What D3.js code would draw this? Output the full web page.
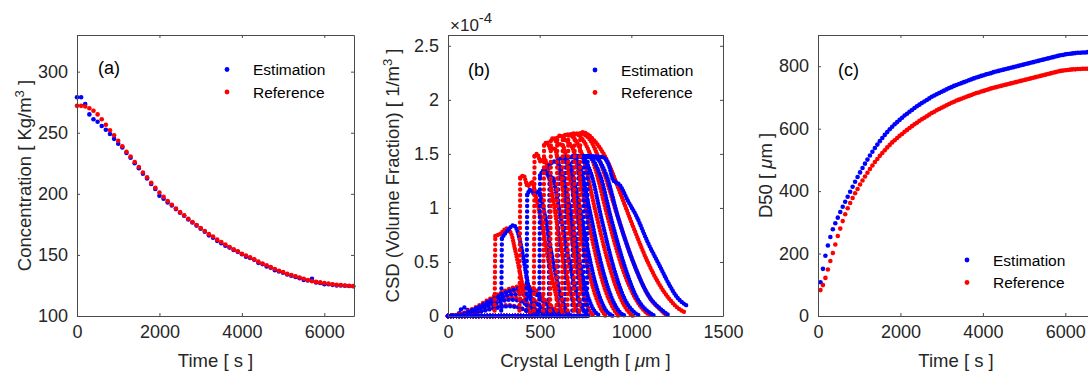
<!DOCTYPE html>
<html>
<head>
<meta charset="utf-8">
<script src="https://cdn.jsdelivr.net/npm/d3@7/dist/d3.min.js"></script>
<style>
  body { margin: 0; background: #fff; }
  svg { display: block; font-family: "Liberation Sans", Arial, sans-serif; }
  .axis path, .axis line { stroke: #4a4a4a; }
  .axis text { fill: #262626; font-family: "Liberation Sans", Arial, sans-serif; font-size: 18px; }
  .lbl { fill: #262626; font-size: 18.5px; }
  .leg { fill: #000; font-size: 15.5px; }
  .tag { fill: #000; font-size: 18px; }
</style>
</head>
<body>
<svg id="chart" width="1088" height="372"></svg>
<script>
// series names + colours
const legendLabels = ['Estimation', 'Reference'];
const seriesColors = ['#0000ff', '#ff0000'];

// (a) concentration [Kg/m3], one value every 100 s from t = 0
const concStep = 100;
const concEst = [279, 279, 273.5, 265, 261, 259, 255.5, 252.5, 249, 245,
  241, 238, 233.5, 229.5, 225, 221, 216.5, 212.5, 208, 204,
  198.5, 196, 193, 190.5, 187.5, 184.5, 182, 179, 176.5, 174,
  171.5, 169, 166, 164, 161.5, 159.5, 157.5, 156, 154, 152.5,
  150.5, 148.5, 147.5, 146, 143.5, 142.5, 140.5, 139.5, 137.5, 136.5,
  135.5, 134, 133, 132, 131, 129.5, 129, 130.5, 127.5, 127,
  126, 126, 125.5, 125, 125, 124.8, 124.6, 124.3];
const concRef = [272, 272, 271.5, 270, 268, 265, 261, 256.5, 252, 248,
  243.5, 239, 234.5, 230.5, 226, 222, 217.5, 213.5, 209, 205,
  201, 197.5, 194, 191, 188, 185, 182.5, 179.5, 177, 174.5,
  172, 169.5, 167, 165, 162.5, 160.5, 158.5, 156.5, 154.5, 153,
  151, 149.5, 148, 146.5, 144.5, 143, 141.5, 140, 138.5, 137,
  136, 134.5, 133.5, 132.5, 131.5, 130.5, 129.5, 128.5, 128, 127.5,
  127, 126.5, 126, 125.5, 125.3, 125, 124.8, 124.5];

// (c) D50 [um], one value every 60 s from t = 60
const d50Step = 60;
const d50Est = [108, 151, 193, 226, 253, 278, 297, 315, 333, 350,
  366, 382, 398, 414, 430, 445, 460, 474, 488, 501,
  514, 526, 538, 549, 560, 570, 580, 589, 598, 606,
  614, 621, 628, 635, 642, 648, 654, 660, 666, 672,
  677, 682, 687, 692, 697, 702, 706, 710, 714, 718,
  722, 726, 730, 733, 737, 740, 743, 746, 749, 752,
  755, 758, 761, 764, 766, 769, 771, 774, 776, 778,
  781, 783, 785, 787, 789, 791, 793, 795, 797, 799,
  801, 803, 805, 807, 809, 811, 813, 815, 817, 819,
  821, 823, 825, 827, 829, 831, 833, 835, 836, 838,
  839, 840, 841, 842, 843, 843, 844, 844, 845, 845,
  846, 846];
const d50Ref = [83, 99, 122, 149, 176, 202, 229, 256, 280, 304,
  326, 345, 362, 378, 393, 407, 421, 434, 447, 459,
  471, 482, 493, 503, 513, 522, 531, 540, 548, 556,
  563, 570, 577, 583, 590, 596, 602, 608, 614, 619,
  625, 630, 635, 640, 645, 650, 654, 659, 663, 667,
  671, 675, 679, 683, 686, 690, 693, 696, 699, 702,
  705, 708, 711, 714, 716, 719, 721, 724, 726, 729,
  731, 733, 735, 737, 739, 741, 743, 745, 747, 749,
  751, 753, 755, 757, 759, 761, 763, 765, 767, 769,
  771, 773, 775, 777, 779, 781, 783, 785, 786, 787,
  788, 789, 790, 790, 791, 791, 792, 792, 792, 792,
  793, 793];

// (b) CSD snapshots, points [crystal length um, value x1e-4]
const csdEst = [
  [[0,0],[50,0],[70,0.06],[88,0.08],[105,0.06],[130,0.02],[160,0],[300,0]],
  [[0,0],[60,0.01],[150,0.03],[250,0.07],[330,0.09],[380,0.08],[440,0.04],[500,0.01],[560,0]],
  [[0,0],[60,0.01],[150,0.05],[250,0.11],[340,0.15],[390,0.14],[450,0.08],[520,0.02],[580,0]],
  [[0,0],[60,0.01],[150,0.06],[250,0.14],[350,0.2],[410,0.2],[470,0.13],[540,0.04],[600,0]],
  [[0,0],[60,0.01],[150,0.07],[250,0.16],[350,0.24],[420,0.26],[480,0.2],[550,0.08],[620,0.01],[650,0]],
  [[0,0],[290,0],[294,0.72],[310,0.76],[330,0.8],[356,0.84],[380,0.78],[402,0.62],[430,0.35],[455,0.15],[475,0.03],[490,0]],
  [[0,0],[428,0],[432,1.12],[450,1.17],[470,1.13],[495,1.15],[520,1.0],[560,0.62],[600,0.28],[640,0.07],[670,0]],
  [[0,0],[498,0],[502,1.3],[525,1.35],[545,1.3],[570,1.28],[600,1.05],[650,0.6],[700,0.22],[745,0.04],[770,0]],
  [[0,0],[550,0],[554,1.4],[580,1.43],[605,1.4],[640,1.2],[690,0.75],[740,0.32],[790,0.07],[830,0]],
  [[0,0],[598,0],[602,1.45],[630,1.46],[660,1.42],[700,1.15],[750,0.72],[800,0.33],[855,0.07],[900,0]],
  [[0,0],[638,0],[642,1.47],[680,1.47],[720,1.38],[770,1.0],[830,0.52],[890,0.18],[940,0.03],[970,0]],
  [[0,0],[678,0],[682,1.48],[730,1.47],[780,1.32],[840,0.88],[900,0.47],[960,0.17],[1020,0.03],[1050,0]],
  [[0,0],[708,0],[712,1.48],[770,1.47],[830,1.3],[890,0.9],[960,0.48],[1030,0.17],[1100,0.03],[1130,0]],
  [[0,0],[738,0],[742,1.48],[800,1.47],[860,1.32],[930,0.9],[1010,0.5],[1090,0.2],[1170,0.05],[1210,0]],
  [[0,0],[758,0],[762,1.48],[845,1.47],[880,1.38],[900,1.26],[938,1.21],[980,1.07],[1029,0.92],[1090,0.68],[1156,0.46],[1210,0.28],[1247,0.18],[1290,0.11],[1311,0.09]]
];
const csdRef = [
  [[0,0],[60,0.01],[150,0.03],[250,0.08],[320,0.1],[370,0.09],[430,0.05],[490,0.01],[540,0]],
  [[0,0],[60,0.01],[150,0.05],[250,0.13],[340,0.17],[390,0.16],[450,0.1],[520,0.03],[580,0]],
  [[0,0],[60,0.015],[150,0.07],[250,0.16],[350,0.23],[400,0.23],[460,0.16],[540,0.05],[600,0]],
  [[0,0],[50,0.01],[150,0.08],[250,0.18],[350,0.26],[410,0.28],[470,0.25],[540,0.13],[610,0.03],[660,0]],
  [[0,0],[254,0],[258,0.74],[285,0.76],[320,0.81],[345,0.76],[365,0.62],[395,0.38],[420,0.17],[447,0.03],[460,0]],
  [[0,0],[390,0],[394,1.28],[412,1.3],[435,1.2],[458,1.24],[480,1.1],[515,0.82],[555,0.45],[595,0.16],[630,0.02],[645,0]],
  [[0,0],[468,0],[472,1.48],[486,1.5],[505,1.43],[525,1.46],[555,1.25],[600,0.8],[645,0.38],[690,0.1],[725,0]],
  [[0,0],[520,0],[524,1.58],[540,1.61],[558,1.55],[580,1.55],[615,1.28],[665,0.8],[715,0.35],[765,0.07],[795,0]],
  [[0,0],[557,0],[561,1.62],[575,1.65],[595,1.6],[625,1.58],[665,1.28],[720,0.8],[775,0.36],[830,0.08],[860,0]],
  [[0,0],[592,0],[596,1.65],[612,1.67],[640,1.63],[680,1.55],[730,1.18],[790,0.68],[850,0.28],[905,0.06],[930,0]],
  [[0,0],[622,0],[626,1.66],[650,1.68],[690,1.64],[740,1.45],[800,1.0],[870,0.52],[940,0.17],[995,0.02],[1010,0]],
  [[0,0],[652,0],[656,1.67],[690,1.69],[740,1.62],[800,1.38],[870,0.92],[950,0.45],[1030,0.14],[1090,0.02],[1110,0]],
  [[0,0],[687,0],[691,1.68],[720,1.69],[770,1.64],[840,1.38],[920,0.95],[1010,0.5],[1100,0.17],[1170,0.04],[1195,0]],
  [[0,0],[717,0],[721,1.69],[731,1.7],[800,1.62],[884,1.38],[930,1.18],[975,0.98],[1030,0.74],[1084,0.52],[1150,0.3],[1211,0.15],[1265,0.06],[1300,0.03]]
];

// tick values
const timeTicks = [0, 2000, 4000, 6000];
const concTicks = [100, 150, 200, 250, 300];
const d50Ticks = [0, 200, 400, 600, 800];
const lenTicks = [0, 500, 1000, 1500];
const csdTicks = [0, 0.5, 1, 1.5, 2, 2.5];

const svg = d3.select('#chart');
const yTop = 35, yBot = 316;

function drawFrame(x, y, xTicks, yTicks) {
  const [x0, x1] = x.range();
  const tl = 3;
  svg.append('g').attr('class', 'axis').attr('transform', `translate(0,${yBot})`)
    .call(d3.axisBottom(x).tickValues(xTicks).tickSizeInner(-tl).tickSizeOuter(0).tickPadding(9).tickFormat(d => String(d)));
  svg.append('g').attr('class', 'axis').attr('transform', `translate(0,${yTop})`)
    .call(d3.axisTop(x).tickValues(xTicks).tickSizeInner(-tl).tickSizeOuter(0).tickFormat(''));
  svg.append('g').attr('class', 'axis').attr('transform', `translate(${x0},0)`)
    .call(d3.axisLeft(y).tickValues(yTicks).tickSizeInner(-tl).tickSizeOuter(0).tickPadding(9).tickFormat(d => String(d)));
  svg.append('g').attr('class', 'axis').attr('transform', `translate(${x1},0)`)
    .call(d3.axisRight(y).tickValues(yTicks).tickSizeInner(-tl).tickSizeOuter(0).tickFormat(''));
}

function legend(x, y) {
  legendLabels.forEach((name, i) => {
    const yy = y + i * 22.5;
    svg.append('circle').attr('cx', x).attr('cy', yy).attr('r', 2.4).attr('fill', seriesColors[i]);
    svg.append('text').attr('class', 'leg').attr('x', x + 26).attr('y', yy + 5.5).text(name);
  });
}

function yLabel(x, y, parts) {
  const t = svg.append('text').attr('class', 'lbl')
    .attr('transform', `translate(${x},${y}) rotate(-90)`).attr('text-anchor', 'middle');
  parts.forEach(p => {
    const s = t.append('tspan').text(p.t);
    if (p.sup) s.attr('baseline-shift', 'super').attr('font-size', '13px');
    if (p.it) s.attr('font-style', 'italic');
  });
}

function xLabel(x, y, parts) {
  const t = svg.append('text').attr('class', 'lbl')
    .attr('x', x).attr('y', y).attr('text-anchor', 'middle');
  parts.forEach(p => {
    const s = t.append('tspan').text(p.t);
    if (p.it) s.attr('font-style', 'italic');
  });
}

function dots(x, y, values, step, start, color) {
  svg.append('g').selectAll('circle').data(values).join('circle')
    .attr('cx', (d, i) => x(start + i * step))
    .attr('cy', d => y(d))
    .attr('r', 2.3)
    .attr('fill', color);
}

// ---- panel (a) ----
const xa = d3.scaleLinear().domain([0, 6720]).range([77, 354]);
const ya = d3.scaleLinear().domain([100, 330]).range([yBot, yTop]);
dots(xa, ya, concEst, concStep, 0, seriesColors[0]);
dots(xa, ya, concRef, concStep, 0, seriesColors[1]);
drawFrame(xa, ya, timeTicks, concTicks);
svg.append('text').attr('class', 'tag').attr('x', 98).attr('y', 74).text('(a)');
legend(227, 69.5);
yLabel(31, 175.5, [{t: 'Concentration [ Kg/m'}, {t: '3', sup: true}, {t: ' ]'}]);
xLabel(215.5, 367, [{t: 'Time [ s ]'}]);

// ---- panel (b) ----
const xb = d3.scaleLinear().domain([0, 1500]).range([448, 723]);
const yb = d3.scaleLinear().domain([0, 2.6]).range([yBot, yTop]);
const csdCurve = d3.line().x(d => xb(d[0])).y(d => yb(d[1])).curve(d3.curveMonotoneX);
const csdStraight = d3.line().x(d => xb(d[0])).y(d => yb(d[1]));
const gb = svg.append('g');

// the steep rising front is drawn with sparse dots, the rest with dense ones
function csdSnapshot(pts, color) {
  const f = pts.findIndex((p, i) => i > 0 && p[1] - pts[i - 1][1] > 0.3);
  const low = d3.max(pts, p => p[1]) < 0.35;
  const pieces = f < 0
    ? [[csdCurve(pts), low ? '0 4.2' : '0 2.8']]
    : [[csdCurve(pts.slice(0, f)), '0 2.8'],
       [csdStraight(pts.slice(f - 1, f + 1)), '0 5.5'],
       [csdCurve(pts.slice(f)), '0 2.8']];
  pieces.forEach(([d, dash]) => {
    gb.append('path').attr('d', d)
      .attr('fill', 'none').attr('stroke', color)
      .attr('stroke-width', 4.4).attr('stroke-linecap', 'round')
      .attr('stroke-dasharray', dash);
  });
}
d3.range(Math.max(csdEst.length, csdRef.length)).forEach(i => {
  if (csdEst[i]) csdSnapshot(csdEst[i], seriesColors[0]);
  if (csdRef[i]) csdSnapshot(csdRef[i], seriesColors[1]);
});
drawFrame(xb, yb, lenTicks, csdTicks);
const ex = svg.append('text').attr('x', 450).attr('y', 31)
  .attr('fill', '#262626').style('font-size', '17px');
ex.append('tspan').text('\u00d710');
ex.append('tspan').attr('dy', -8).style('font-size', '15px').text('-4');
svg.append('text').attr('class', 'tag').attr('x', 468).attr('y', 76).text('(b)');
legend(595, 70);
yLabel(399, 175.5, [{t: 'CSD (Volume Fraction) [ 1/m'}, {t: '3', sup: true}, {t: ' ]'}]);
xLabel(585.5, 367, [{t: 'Crystal Length [ '}, {t: '\u03bc', it: true}, {t: 'm ]'}]);

// ---- panel (c) ----
const xc = d3.scaleLinear().domain([0, 6720]).range([818, 1095]);
const yc = d3.scaleLinear().domain([0, 900]).range([yBot, yTop]);
dots(xc, yc, d50Est, d50Step, d50Step, seriesColors[0]);
dots(xc, yc, d50Ref, d50Step, d50Step, seriesColors[1]);
drawFrame(xc, yc, timeTicks, d50Ticks);
svg.append('text').attr('class', 'tag').attr('x', 838).attr('y', 76).text('(c)');
legend(967, 260);
yLabel(772, 175.5, [{t: 'D50 [ '}, {t: '\u03bc', it: true}, {t: 'm ]'}]);
xLabel(956, 367, [{t: 'Time [ s ]'}]);
</script>
</body>
</html>
